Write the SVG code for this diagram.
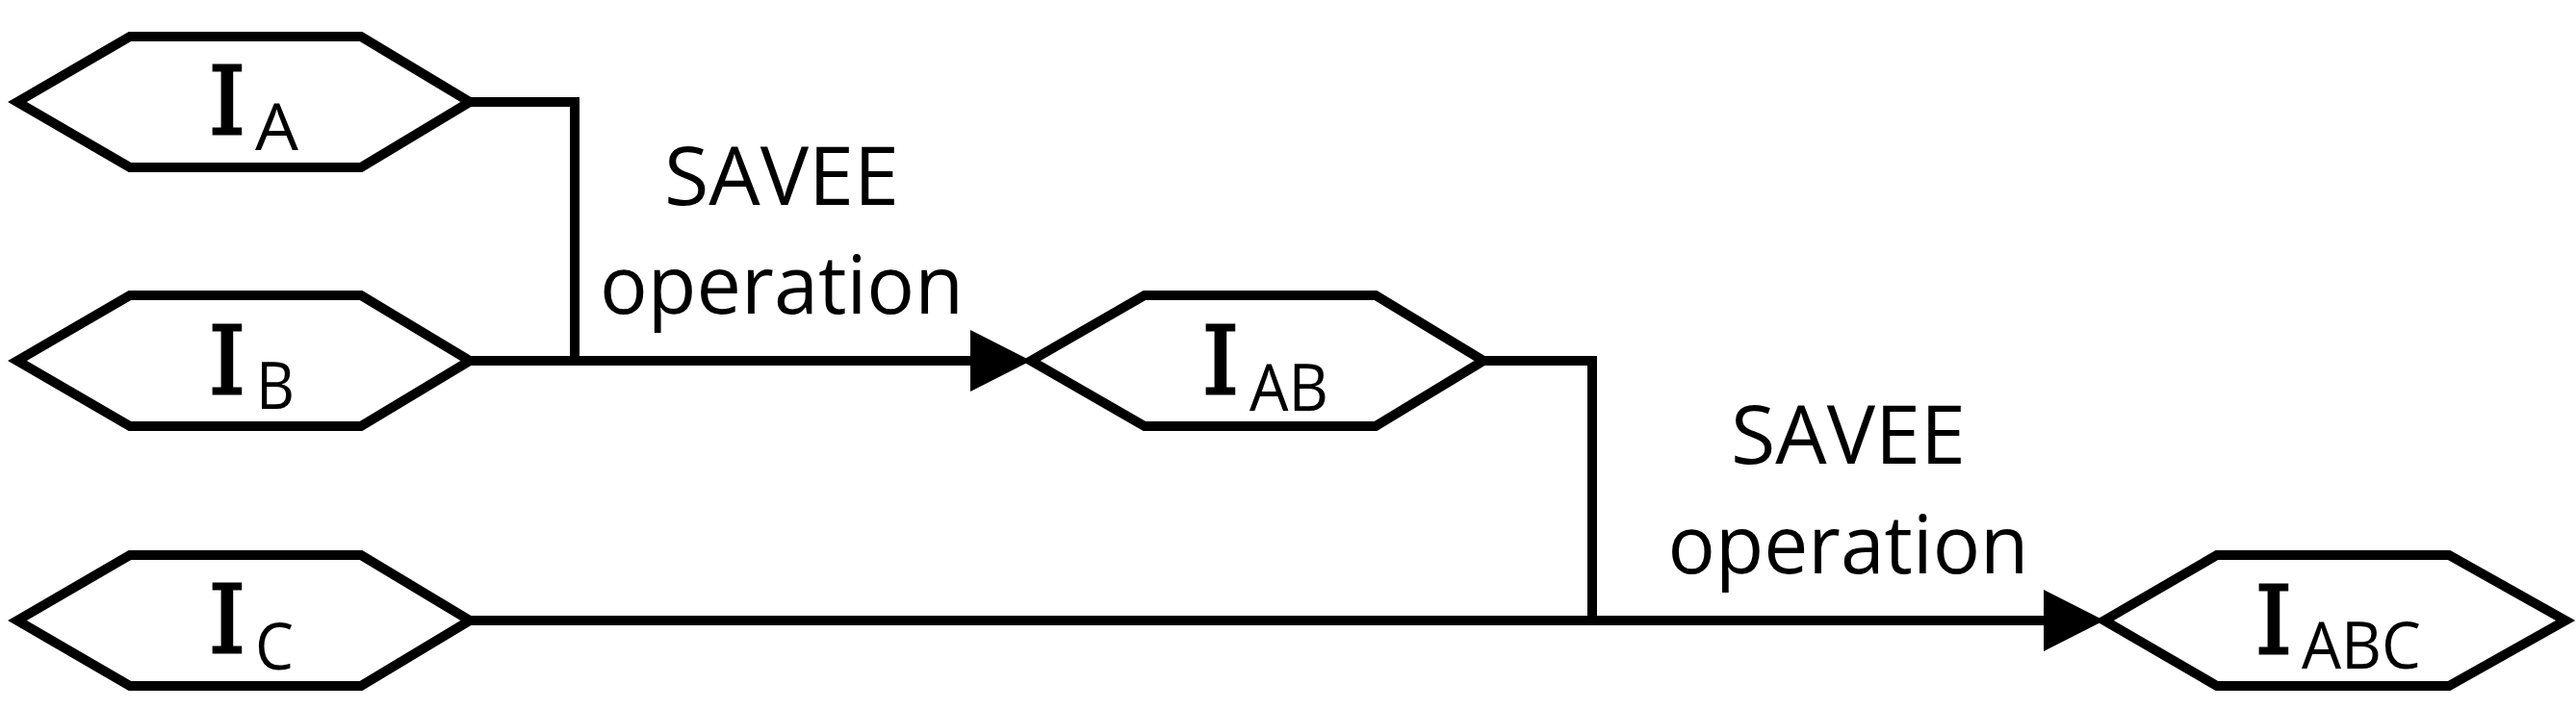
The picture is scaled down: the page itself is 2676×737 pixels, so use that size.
<svg xmlns="http://www.w3.org/2000/svg" width="2676" height="737" viewBox="0 0 2676 737">
  <defs>
    <style>
      .hex { fill: #ffffff; stroke: #000000; stroke-width: 10; stroke-linejoin: miter; }
      .conn { fill: none; stroke: #000000; stroke-width: 10; stroke-linejoin: miter; stroke-linecap: butt; }
      .big { font-family: "DejaVu Serif", "Liberation Serif", serif; font-size: 97px; fill: #000; stroke: #000; stroke-width: 3; text-anchor: middle; }
      .sub { font-family: "Open Sans", "Liberation Sans", sans-serif; font-size: 67px; fill: #000; }
      .lbl { font-family: "Open Sans", "Liberation Sans", sans-serif; font-size: 85px; fill: #000; text-anchor: middle; }
    </style>
    <marker id="arrow" markerUnits="userSpaceOnUse" markerWidth="63" markerHeight="64" refX="42" refY="32" orient="auto">
      <path d="M0,0 L63,32 L0,64 Z" fill="#000000"/>
    </marker>
  </defs>
  <rect width="2676" height="737" fill="#ffffff"/>

  <g id="connectors">
    <polyline class="conn" points="489,106 597,106 597,375"/>
    <line class="conn" x1="489" y1="375" x2="1050" y2="375" marker-end="url(#arrow)"/>
    <polyline class="conn" points="1541,375 1654,375 1654,645"/>
    <line class="conn" x1="489" y1="645" x2="2165" y2="645" marker-end="url(#arrow)"/>
  </g>

  <g id="label1">
    <text class="lbl" x="812" y="213" textLength="244" lengthAdjust="spacingAndGlyphs">SAVEE</text>
    <text class="lbl" x="812" y="326" textLength="378" lengthAdjust="spacingAndGlyphs">operation</text>
  </g>
  <g id="label2">
    <text class="lbl" x="1920" y="482" textLength="244" lengthAdjust="spacingAndGlyphs">SAVEE</text>
    <text class="lbl" x="1920" y="596" textLength="375" lengthAdjust="spacingAndGlyphs">operation</text>
  </g>

  <g id="node-IA">
    <polygon class="hex" points="18,106 135,38 375,38 488,106 375,174 135,174"/>
    <text class="big" x="236" y="139">I</text>
    <text class="sub" x="265" y="156" textLength="45" lengthAdjust="spacingAndGlyphs">A</text>
  </g>
  <g id="node-IB">
    <polygon class="hex" points="18,375 135,307 375,307 488,375 375,443 135,443"/>
    <text class="big" x="236" y="409">I</text>
    <text class="sub" x="266" y="425" textLength="40" lengthAdjust="spacingAndGlyphs">B</text>
  </g>
  <g id="node-IC">
    <polygon class="hex" points="18,645 135,577 375,577 488,645 375,713 135,713"/>
    <text class="big" x="236" y="678">I</text>
    <text class="sub" x="265" y="696" textLength="40" lengthAdjust="spacingAndGlyphs">C</text>
  </g>
  <g id="node-IAB">
    <polygon class="hex" points="1071,375 1189,307 1429,307 1541,375 1429,443 1189,443"/>
    <text class="big" x="1268" y="409">I</text>
    <text class="sub" x="1298" y="427" textLength="82" lengthAdjust="spacingAndGlyphs">AB</text>
  </g>
  <g id="node-IABC">
    <polygon class="hex" points="2186,645 2303,577 2544,577 2665,645 2544,713 2303,713"/>
    <text class="big" x="2362" y="679">I</text>
    <text class="sub" x="2391" y="695" textLength="124" lengthAdjust="spacingAndGlyphs">ABC</text>
  </g>
</svg>
